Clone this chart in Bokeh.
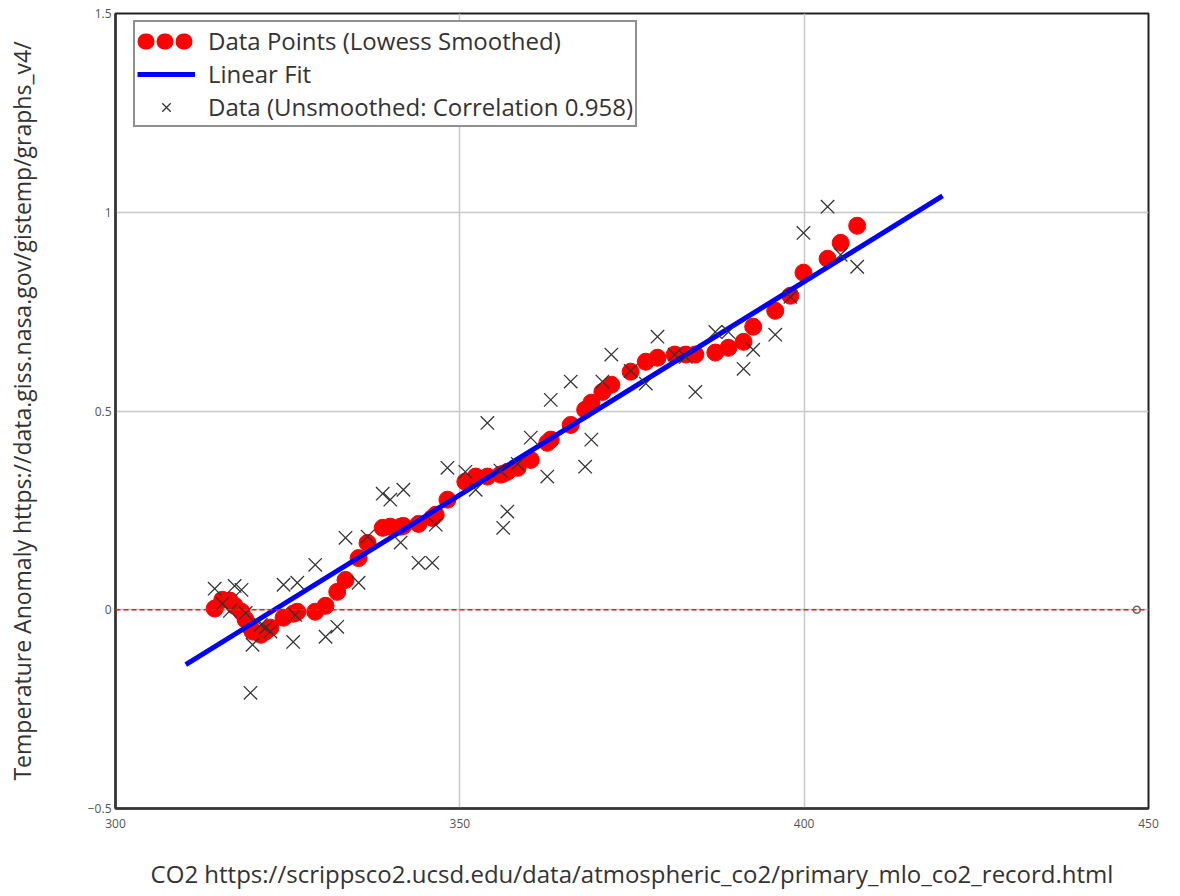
from bokeh.plotting import figure
from bokeh.models import Range1d, FixedTicker, Span, Legend, LegendItem, ColumnDataSource
from bokeh.embed import file_html
from bokeh.resources import INLINE

# ---- data ----
co2_ppm = [314.4, 315.5, 316.6, 317.3, 318.3, 318.9, 319.6, 319.9, 321.1, 321.8,
           322.5, 324.4, 325.8, 326.1, 326.4, 329.0, 330.5, 332.2, 333.4, 335.3,
           336.6, 338.8, 339.9, 341.4, 341.8, 344.0, 346.0, 346.5, 348.2, 350.8,
           352.3, 354.0, 355.9, 356.3, 356.9, 358.4, 360.3, 362.7, 363.2, 366.1,
           368.2, 369.1, 370.7, 372.0, 374.8, 377.0, 378.7, 381.2, 382.8, 384.2,
           387.1, 389.0, 391.2, 392.6, 395.8, 398.0, 399.9, 403.4, 405.3, 407.7]
temp_raw = [0.053, 0.015, -0.003, 0.060, 0.050, -0.008, -0.209, -0.088, -0.038, -0.045,
            -0.055, 0.063, -0.081, -0.013, 0.068, 0.113, -0.068, -0.043, 0.181, 0.068,
            0.184, 0.292, 0.277, 0.169, 0.302, 0.118, 0.118, 0.214, 0.357, 0.347,
            0.302, 0.470, 0.350, 0.206, 0.247, 0.367, 0.433, 0.335, 0.528, 0.574,
            0.360, 0.428, 0.574, 0.642, 0.601, 0.569, 0.687, 0.642, 0.636, 0.548,
            0.699, 0.699, 0.606, 0.654, 0.692, 0.787, 0.948, 1.014, 0.893, 0.863]
temp_smooth = [0.003, 0.025, 0.023, 0.010, -0.005, -0.025, -0.045, -0.055, -0.063, -0.055,
               -0.045, -0.020, -0.010, -0.008, -0.005, -0.005, 0.010, 0.045, 0.075, 0.130,
               0.168, 0.206, 0.209, 0.209, 0.211, 0.216, 0.231, 0.239, 0.277, 0.322,
               0.335, 0.335, 0.340, 0.342, 0.347, 0.357, 0.377, 0.420, 0.428, 0.465,
               0.503, 0.521, 0.548, 0.566, 0.599, 0.624, 0.634, 0.642, 0.642, 0.642,
               0.647, 0.659, 0.674, 0.712, 0.752, 0.790, 0.848, 0.883, 0.923, 0.966]
fit_co2 = [310.2, 420.1]
fit_temp = [-0.138, 1.041]
zero_marker_co2 = [448.3]
zero_marker_temp = [0.0]

x_ticks = [300, 350, 400, 450]
y_ticks = [-0.5, 0, 0.5, 1, 1.5]
y_tick_labels = {"-0.5": "\u2013 0.5", "0": "0", "0.5": "0.5", "1": "1", "1.5": "1.5"}

legend_labels = ["Data Points (Lowess Smoothed)", "Linear Fit",
                 "Data (Unsmoothed: Correlation 0.958)"]
x_label = "CO2 https://scrippsco2.ucsd.edu/data/atmospheric_co2/primary_mlo_co2_record.html"
y_label = "Temperature Anomaly https://data.giss.nasa.gov/gistemp/graphs_v4/"

FONT = "Open Sans"

p = figure(width=1172, height=894, output_backend="svg", toolbar_location=None,
           x_range=Range1d(300, 450), y_range=Range1d(-0.5, 1.5),
           min_border_left=115, min_border_right=24, min_border_top=13, min_border_bottom=86)
p.background_fill_color = "white"
p.border_fill_color = "white"
p.outline_line_color = "#222222"
p.outline_line_width = 2

# grid
p.xgrid.ticker = FixedTicker(ticks=x_ticks)
p.ygrid.ticker = FixedTicker(ticks=y_ticks)
for g in (p.xgrid, p.ygrid):
    g.grid_line_color = "#c8c8c8"
    g.grid_line_width = 1.5

# axes
for ax in (p.xaxis, p.yaxis):
    ax.major_tick_line_color = None
    ax.minor_tick_line_color = None
    ax.major_tick_out = 0
    ax.major_tick_in = 0
    ax.axis_line_color = "#333333"
    ax.axis_line_width = 2.5
    ax.major_label_text_font = FONT
    ax.major_label_text_font_size = "12px"
    ax.major_label_text_color = "#555555"
    ax.axis_label_text_font = FONT
    ax.axis_label_text_font_style = "normal"
    ax.axis_label_text_color = "#333333"
p.xaxis.axis_label_text_font_size = "24px"
p.yaxis.axis_label_text_font_size = "23px"
p.xaxis.ticker = FixedTicker(ticks=x_ticks)
p.yaxis.ticker = FixedTicker(ticks=y_ticks)
p.yaxis.major_label_overrides = y_tick_labels
p.xaxis.major_label_standoff = 10
p.yaxis.major_label_standoff = 4
p.xaxis.axis_label = x_label
p.yaxis.axis_label = y_label
p.xaxis.axis_label_standoff = 26
p.yaxis.axis_label_standoff = 47

# zero reference line
p.add_layout(Span(location=0, dimension="width", line_color="#ff1a1a",
                  line_dash="5 3", line_width=1.5))
p.scatter(zero_marker_co2, zero_marker_temp, marker="circle", size=7,
          fill_color=None, line_color="#666666", line_width=1.5)

src = ColumnDataSource(dict(co2=co2_ppm, raw=temp_raw, smooth=temp_smooth))
red = p.scatter("co2", "smooth", source=src, marker="circle", size=17,
                fill_color="#ff0000", line_color="#ff0000")
blue = p.line(fit_co2, fit_temp, line_color="#0000ff", line_width=5)
xs = p.scatter("co2", "raw", source=src, marker="x", size=19,
               line_color="#333333", line_width=1.3)

# legend-only glyph (no visible data) showing a row of three red dots
nan = float("nan")
dots = p.line(x=[nan], y=[nan], line_color="#ff0000", line_width=16, line_cap="round",
              line_dash="1 18", line_dash_offset=-8)

legend = Legend(items=[LegendItem(label=legend_labels[0], renderers=[dots]),
                       LegendItem(label=legend_labels[1], renderers=[blue]),
                       LegendItem(label=legend_labels[2], renderers=[xs])],
                location=(18, 681), padding=2, spacing=0,
                glyph_width=58, glyph_height=30, label_height=30, label_standoff=13,
                label_text_font=FONT, label_text_font_size="24px", label_text_color="#333333",
                border_line_color="#222222", border_line_width=2,
                background_fill_color="white", background_fill_alpha=1.0)
p.add_layout(legend)

open("out.html", "w").write(file_html(p, INLINE))
